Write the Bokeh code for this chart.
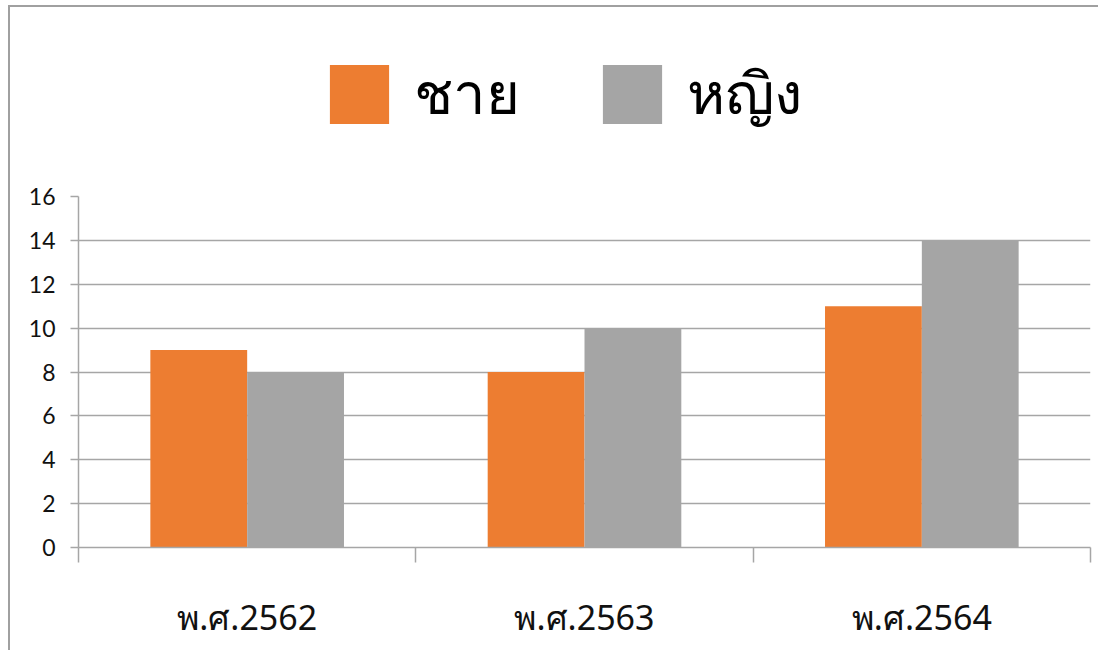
from bokeh.plotting import figure
from bokeh.layouts import column
from bokeh.models import (ColumnDataSource, Range1d, FixedTicker, Legend, LegendItem)
from bokeh.transform import dodge
from bokeh.embed import file_html
from bokeh.resources import INLINE

categories = ["พ.ศ.2562", "พ.ศ.2563", "พ.ศ.2564"]
series_names = ["ชาย", "หญิง"]
male = [9, 8, 11]
female = [8, 10, 14]
y_ticks = [0, 2, 4, 6, 8, 10, 12, 14, 16]

ORANGE = "#ED7D31"
GRAY = "#A5A5A5"
LINE = "#A6A6A6"

pos = [i + 0.5 for i in range(len(categories))]
bounds = [float(i) for i in range(len(categories) + 1)]
src = ColumnDataSource(dict(pos=pos, male=male, female=female))

W = 1088
LEG_H = 175
MAIN_H = 468

# ---- main chart ----
p = figure(width=W, height=MAIN_H, output_backend="svg", toolbar_location=None,
           x_range=Range1d(0, len(categories)), y_range=Range1d(0, 16),
           min_border_left=68, min_border_right=8, min_border_top=14, min_border_bottom=103,
           background_fill_color="white", border_fill_color="white")
p.outline_line_color = None

bw = 0.287
r1 = p.vbar(x=dodge("pos", -bw / 2, range=p.x_range), top="male", width=bw, bottom=0,
            source=src, fill_color=ORANGE, line_color=None)
r2 = p.vbar(x=dodge("pos", bw / 2, range=p.x_range), top="female", width=bw, bottom=0,
            source=src, fill_color=GRAY, line_color=None)

xa = p.xaxis[0]
xa.ticker = FixedTicker(ticks=pos, minor_ticks=bounds)
xa.major_label_overrides = {pp: c for pp, c in zip(pos, categories)}
xa.major_tick_line_color = None
xa.major_tick_out = 15
xa.major_tick_in = 0
xa.minor_tick_line_color = LINE
xa.minor_tick_line_width = 1.5
xa.minor_tick_out = 15
xa.minor_tick_in = 0
xa.axis_line_color = LINE
xa.axis_line_width = 1.5
xa.major_label_text_font = "Noto Sans"
xa.major_label_text_font_size = "34px"
xa.major_label_text_color = "#111111"
xa.major_label_standoff = 31

ya = p.yaxis[0]
ya.ticker = FixedTicker(ticks=y_ticks)
ya.minor_tick_line_color = None
ya.major_tick_line_color = LINE
ya.major_tick_line_width = 1.5
ya.major_tick_out = 8
ya.major_tick_in = 0
ya.axis_line_color = LINE
ya.axis_line_width = 1.5
ya.major_label_text_font = "Lato"
ya.major_label_text_font_size = "23px"
ya.major_label_text_color = "#111111"
ya.major_label_standoff = 15

p.xgrid.grid_line_color = None
p.ygrid.ticker = FixedTicker(ticks=y_ticks)
p.ygrid.grid_line_color = LINE
p.ygrid.grid_line_width = 1.5

# ---- legend strip: proxy renderers with no drawable geometry, only the legend shows ----
lf = figure(width=W, height=LEG_H, output_backend="svg", toolbar_location=None,
            x_axis_location=None, y_axis_location=None,
            x_range=Range1d(0, len(categories)), y_range=Range1d(0, 1),
            min_border=0, background_fill_color="white", border_fill_color="white")
lf.outline_line_color = None
lf.grid.grid_line_color = None
proxy = ColumnDataSource(dict(x=[float("nan")], top=[float("nan")]))
l1 = lf.vbar(x="x", top="top", width=bw, source=proxy, fill_color=ORANGE, line_color=None)
l2 = lf.vbar(x="x", top="top", width=bw, source=proxy, fill_color=GRAY, line_color=None)

legend = Legend(items=[LegendItem(label=series_names[0], renderers=[l1]),
                       LegendItem(label=series_names[1], renderers=[l2])],
                orientation="horizontal", location=(244, 42),
                glyph_width=74, glyph_height=74, label_standoff=18, spacing=75,
                padding=0, margin=0, border_line_color=None, background_fill_alpha=0,
                label_text_font="Noto Sans", label_text_font_size="58px",
                label_text_color="#000000", label_height=74)
lf.add_layout(legend, "center")

layout = column(lf, p, spacing=0, margin=(5, 0, 0, 8),
                styles={"border-left": "2px solid #A0A0A0", "border-top": "2px solid #A0A0A0"})

open("out.html", "w").write(file_html(layout, INLINE))
